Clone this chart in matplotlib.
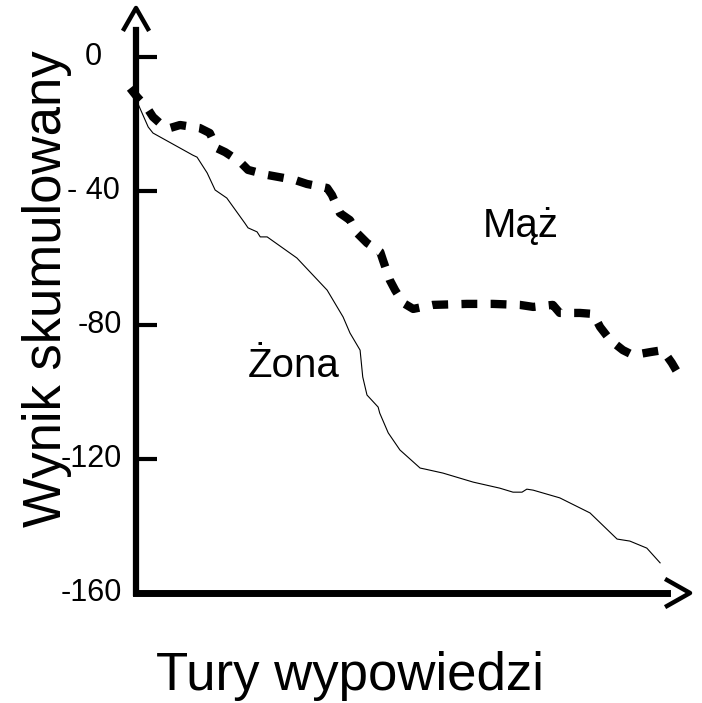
import matplotlib
matplotlib.use("Agg")
import matplotlib.pyplot as plt
from matplotlib.lines import Line2D
from matplotlib.ticker import FixedLocator, NullFormatter
from matplotlib.transforms import blended_transform_factory

plt.rcParams['font.family'] = ['Liberation Sans', 'DejaVu Sans']

# cumulative score per speaking turn
maz_x = [-1.1, 0.2, 2.1, 3.2, 5.1, 6.4, 8.3, 12.0, 13.9, 15.2, 16.8, 19.6, 21.1,
         24.7, 29.9, 32.2, 36.0, 36.9, 38.4, 40.3, 41.6, 43.5, 46.0, 46.5, 47.8,
         48.8, 50.3, 52.2, 55.9, 62.3, 67.2, 72.3, 74.8, 78.5, 79.8, 83.6, 86.1,
         87.4, 89.3, 91.7, 93.6, 96.8, 99.2, 100.9, 101.9]
maz_y = [-9.3, -11.9, -15.2, -17.9, -20.6, -21.2, -20.3, -21.2, -22.7, -27.2,
         -28.4, -31.3, -33.7, -35.2, -36.7, -37.9, -39.1, -41.2, -46.6, -48.7,
         -52.5, -55.5, -58.2, -60.6, -66.6, -69.6, -73.4, -75.2, -74.0, -73.7,
         -73.7, -74.0, -74.6, -74.0, -76.4, -76.4, -76.7, -80.6, -84.5, -87.5,
         -89.0, -88.1, -87.5, -91.3, -94.0]

zona_x = [-0.2, 2.3, 3.2, 10.7, 11.5, 13.4, 14.9, 17.1, 20.5, 21.1, 22.8, 23.4,
          24.7, 30.3, 36.0, 39.0, 40.3, 42.2, 42.7, 43.5, 45.6, 45.9, 47.5, 49.7,
          53.5, 54.4, 57.8, 63.5, 68.5, 71.0, 72.7, 73.6, 74.8, 79.8, 85.5, 90.6,
          93.0, 96.2, 98.7]
zona_y = [-11.9, -20.9, -22.7, -29.3, -29.9, -34.6, -39.7, -42.1, -49.6, -51.0,
          -52.2, -53.7, -53.7, -60.0, -69.6, -77.6, -82.4, -87.5, -95.5, -100.9,
          -104.5, -106.3, -112.2, -117.3, -122.7, -123.0, -124.2, -126.9, -128.7,
          -129.9, -129.9, -129.0, -129.3, -131.6, -136.1, -143.9, -144.5, -146.6,
          -151.0]

yticks = [0, -40, -80, -120, -160]
ytick_labels = ["0", "- 40", "-80", "-120", "-160"]
ytick_label_right = [102, 120, 122, 122, 122]  # px, right edge of each label

W, H = 702, 703
fig = plt.figure(figsize=(W / 100, H / 100), dpi=100)
ax = fig.add_axes([136 / W, 1 - 593 / H, (667 - 136) / W, (593 - 30) / H])

ax.plot(zona_x, zona_y, color='black', linewidth=0.8, clip_on=False)
ax.plot(maz_x, maz_y, color='black', linewidth=6, dashes=(1.9, 1.6),
        dash_capstyle='butt', clip_on=False)

ax.set_xlim(0, 100)
ax.set_ylim(-160, 8.06)

for side in ['top', 'right']:
    ax.spines[side].set_visible(False)
ax.spines['left'].set_linewidth(4.5)
ax.spines['bottom'].set_linewidth(5)
ax.spines['bottom'].set_capstyle('projecting')

ax.set_xticks([])
ax.yaxis.set_major_locator(FixedLocator(yticks))
ax.yaxis.set_minor_locator(FixedLocator(yticks))
ax.yaxis.set_major_formatter(NullFormatter())
ax.tick_params(axis='y', which='major', direction='in', length=15, width=3)
ax.tick_params(axis='y', which='minor', direction='out', length=6.5, width=3)

trans = blended_transform_factory(fig.transFigure, ax.transData)
for val, lab, xr in zip(yticks, ytick_labels, ytick_label_right):
    ax.text(xr / W, val, lab, transform=trans, ha='right', va='center',
            fontsize=22)

# arrow heads on the axes
fig.add_artist(Line2D([124 / W, 136 / W, 148 / W],
                      [1 - 29 / H, 1 - 8 / H, 1 - 29 / H],
                      color='black', linewidth=3.2))
fig.add_artist(Line2D([667 / W, 690 / W, 667 / W],
                      [1 - 580 / H, 1 - 593 / H, 1 - 606 / H],
                      color='black', linewidth=3.2))

ax.text(72.5, -53.7, "Mąż", fontsize=29, ha='center', va='baseline')
ax.text(29.7, -95.5, "Żona", fontsize=29, ha='center', va='baseline')

fig.text(47 / W, 1 - 289 / H, "Wynik skumulowany", rotation=90, fontsize=38,
         ha='center', va='center')
fig.text(350 / W, 1 - 690 / H, "Tury wypowiedzi", fontsize=38,
         ha='center', va='baseline')

fig.savefig("out.png", dpi=100)
